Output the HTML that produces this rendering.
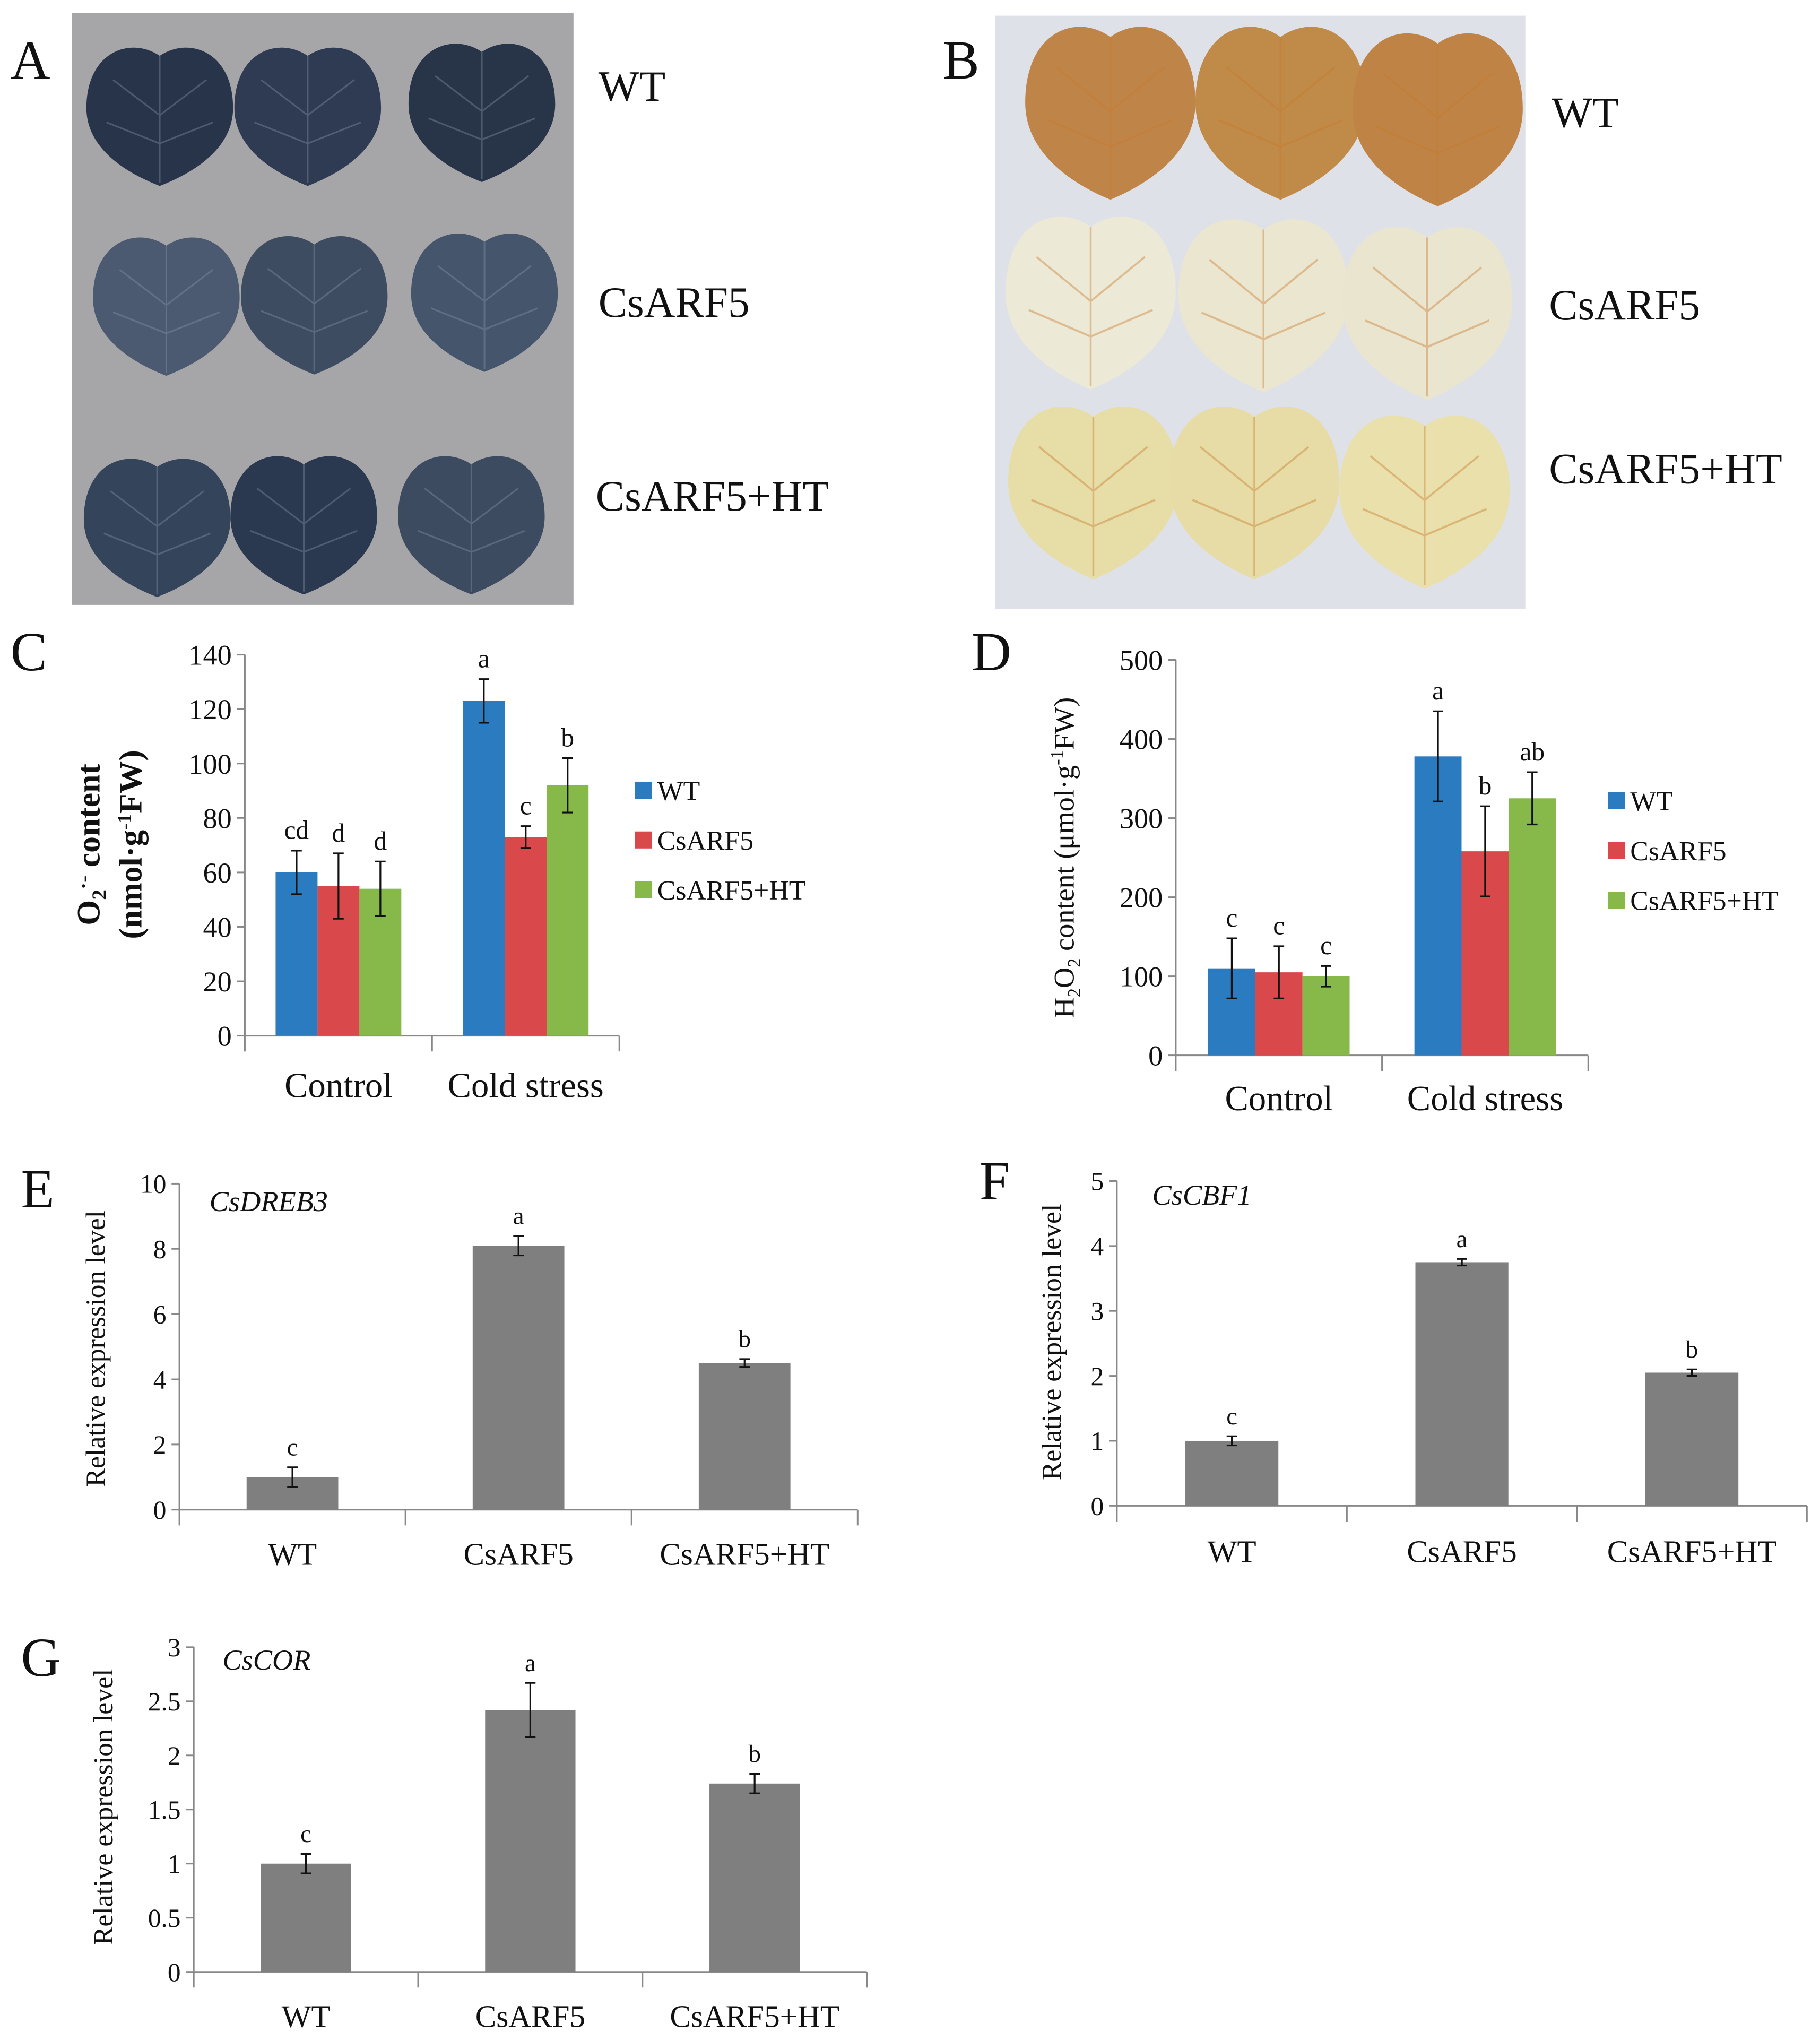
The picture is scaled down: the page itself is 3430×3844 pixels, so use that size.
<!DOCTYPE html>
<html><head><meta charset="utf-8"><style>
html,body{margin:0;padding:0;background:#fff;}
svg{display:block;}
text{font-family:"Liberation Serif",serif;fill:#111;}
</style></head>
<body>
<svg id="fig" width="3430" height="3844" viewBox="0 0 1390 1558" preserveAspectRatio="none" xmlns="http://www.w3.org/2000/svg">
  <rect width="1390" height="1558" fill="#fff"/>
  <text x="8" y="60" font-size="42">A</text>
  <rect x="55" y="10" width="383" height="452" fill="#a6a5a8"/>
  <g id="leavesA"></g>
  <text x="457" y="77" font-size="33">WT</text>
  <text x="457" y="242" font-size="33">CsARF5</text>
  <text x="455" y="390" font-size="33">CsARF5+HT</text>
  <text x="720" y="60" font-size="42">B</text>
  <rect x="760" y="12" width="405" height="453" fill="#dfe1e8"/>
  <g id="leavesB"></g>
  <text x="1185" y="97" font-size="33">WT</text>
  <text x="1183" y="244" font-size="33">CsARF5</text>
  <text x="1183" y="369" font-size="33">CsARF5+HT</text>

  <text x="8" y="512" font-size="42">C</text>
  <text x="742" y="512" font-size="42">D</text>
  <text x="16" y="922" font-size="42">E</text>
  <text x="748" y="916" font-size="42">F</text>
  <text x="16" y="1280" font-size="42">G</text>

  <text transform="translate(76,645) rotate(-90)" font-size="25" text-anchor="middle" font-weight="bold">O<tspan font-size="16" dy="5">2</tspan><tspan dy="-12" font-size="16">·-</tspan><tspan dy="7"> content</tspan></text>
  <text transform="translate(108,645) rotate(-90)" font-size="25" text-anchor="middle" font-weight="bold">(nmol·g<tspan font-size="15" dy="-8">-1</tspan><tspan dy="8">FW)</tspan></text>
  <text transform="translate(820,655) rotate(-90)" font-size="22" text-anchor="middle">H<tspan font-size="14" dy="5">2</tspan><tspan dy="-5">O</tspan><tspan font-size="14" dy="5">2</tspan><tspan dy="-5"> content (μmol·g</tspan><tspan font-size="14" dy="-8">-1</tspan><tspan dy="8">FW)</tspan></text>
  <text transform="translate(80,1030) rotate(-90)" font-size="21" text-anchor="middle">Relative expression level</text>
  <text transform="translate(810,1025) rotate(-90)" font-size="21" text-anchor="middle">Relative expression level</text>
  <text transform="translate(86,1380) rotate(-90)" font-size="21" text-anchor="middle">Relative expression level</text>

  <text x="160" y="925" font-size="22" font-style="italic">CsDREB3</text>
  <text x="880" y="920" font-size="22" font-style="italic">CsCBF1</text>
  <text x="170" y="1275" font-size="22" font-style="italic">CsCOR</text>
  <g id="charts"></g>
</svg>
<script>
const groupCats = ["Control", "Cold  stress"];
const seriesNames = ["WT", "CsARF5", "CsARF5+HT"];
const seriesColors = ["#2a7bc0", "#d9484a", "#86b84a"];
const cTicks = [0, 20, 40, 60, 80, 100, 120, 140];
const cWT = [60, 123];
const cARF = [55, 73];
const cHT = [54, 92];
const cWTErr = [8, 8];
const cARFErr = [12, 4];
const cHTErr = [10, 10];
const cLetters = [["cd","a"],["d","c"],["d","b"]];
const dTicks = [0, 100, 200, 300, 400, 500];
const dWT = [110, 378];
const dARF = [105, 258];
const dHT = [100, 325];
const dWTErr = [38, 57];
const dARFErr = [33, 57];
const dHTErr = [13, 33];
const dLetters = [["c","a"],["c","b"],["c","ab"]];
const geneCats = ["WT", "CsARF5", "CsARF5+HT"];
const eTicks = [0, 2, 4, 6, 8, 10];
const eVals = [1.0, 8.1, 4.5];
const eErr = [0.3, 0.3, 0.12];
const eLetters = ["c", "a", "b"];
const fTicks = [0, 1, 2, 3, 4, 5];
const fVals = [1.0, 3.75, 2.05];
const fErr = [0.07, 0.05, 0.05];
const fLetters = ["c", "a", "b"];
const gTicks = [0, 0.5, 1, 1.5, 2, 2.5, 3];
const gVals = [1.0, 2.42, 1.74];
const gErr = [0.09, 0.25, 0.09];
const gLetters = ["c", "a", "b"];

const NS = "http://www.w3.org/2000/svg";
const root = document.getElementById("charts");
function mk(tag, attrs, parent, txt) {
  const e = document.createElementNS(NS, tag);
  for (const k in attrs) e.setAttribute(k, attrs[k]);
  if (txt !== undefined) e.textContent = txt;
  (parent || root).appendChild(e);
  return e;
}
function axes(g, ax, ticks, cats, tickFs, catFs, catY) {
  const max = ticks[ticks.length - 1];
  const ys = v => ax.y0 - (v / max) * (ax.y0 - ax.yTop);
  let l = mk("line", {x1: ax.x0, y1: ax.yTop, x2: ax.x0, y2: ax.y0 + 12, stroke: "#888", "stroke-width": 1.2}, g);
  
  
  l = mk("line", {x1: ax.x0, y1: ax.y0, x2: ax.xEnd, y2: ax.y0, stroke: "#888", "stroke-width": 1.2}, g);
  
  
  ticks.forEach(t => {
    const y = ys(t);
    mk("line", {x1: ax.x0 - 6, y1: y, x2: ax.x0, y2: y, stroke: "#888", "stroke-width": 1.2}, g);
    const tx = mk("text", {x: ax.x0 - 10, y: y + tickFs * 0.35, "font-size": tickFs, "text-anchor": "end"}, g, String(t));
    
    
  });
  const cw = (ax.xEnd - ax.x0) / cats.length;
  cats.forEach((c, i) => {
    const xb = ax.x0 + cw * (i + 1);
    mk("line", {x1: xb, y1: ax.y0, x2: xb, y2: ax.y0 + 12, stroke: "#888", "stroke-width": 1.2}, g);
    const tx = mk("text", {x: ax.x0 + cw * (i + 0.5), y: catY, "font-size": catFs, "text-anchor": "middle"}, g, c);
    
    
  });
  return {ys, cw};
}
function errBar(g, x, yTop, yBot) {
  mk("line", {x1: x, y1: yTop, x2: x, y2: yBot, stroke: "#111", "stroke-width": 1.3}, g);
  mk("line", {x1: x - 4, y1: yTop, x2: x + 4, y2: yTop, stroke: "#111", "stroke-width": 1.3}, g);
  mk("line", {x1: x - 4, y1: yBot, x2: x + 4, y2: yBot, stroke: "#111", "stroke-width": 1.3}, g);
}
function groupedChart(name, ax, ticks, series, errs, letters, legX, legY, catY) {
  const g = mk("g", {});
  
  
  const {ys, cw} = axes(g, ax, ticks, groupCats, 22, 27, catY);
  const bw = ax.bw;
  groupCats.forEach((c, gi) => {
    const start = ax.x0 + cw * gi + (cw - bw * 3) / 2;
    series.forEach((s, si) => {
      const v = s[gi], e = errs[si][gi];
      const x = start + bw * si;
      const r = mk("rect", {x: x, y: ys(v), width: bw, height: ax.y0 - ys(v), fill: seriesColors[si]}, g);
      
      
      errBar(g, x + bw / 2, ys(v + e), ys(v - e));
      const t = mk("text", {x: x + bw / 2, y: ys(v + e) - 9, "font-size": 20, "text-anchor": "middle"}, g, letters[si][gi]);
      
      
    });
  });
  seriesNames.forEach((n, i) => {
    const r = mk("rect", {x: legX, y: legY + i * 38 - 7, width: 13, height: 13, fill: seriesColors[i]}, g);
    
    
    const t = mk("text", {x: legX + 17, y: legY + i * 38 + 7, "font-size": 21}, g, n);
    
    
  });
}
function simpleChart(name, ax, ticks, vals, errs, letters, catY) {
  const g = mk("g", {});
  
  
  const {ys, cw} = axes(g, ax, ticks, geneCats, 20, 24, catY);
  vals.forEach((v, i) => {
    const x = ax.x0 + cw * (i + 0.5) - ax.bw / 2;
    const r = mk("rect", {x: x, y: ys(v), width: ax.bw, height: ax.y0 - ys(v), fill: "#7f7f7f"}, g);
    
    
    errBar(g, x + ax.bw / 2, ys(v + errs[i]), ys(v - errs[i]));
    const t = mk("text", {x: x + ax.bw / 2, y: ys(v + errs[i]) - 9, "font-size": 19, "text-anchor": "middle"}, g, letters[i]);
    
    
  });
}
groupedChart("chart-c-superoxide", {x0: 187, y0: 791, yTop: 500, xEnd: 473, bw: 32}, cTicks, [cWT, cARF, cHT], [cWTErr, cARFErr, cHTErr], cLetters, 485, 604, 838);
groupedChart("chart-d-h2o2", {x0: 898, y0: 806, yTop: 504, xEnd: 1213, bw: 36}, dTicks, [dWT, dARF, dHT], [dWTErr, dARFErr, dHTErr], dLetters, 1228, 612, 848);
simpleChart("chart-e-csdreb3", {x0: 137, y0: 1153, yTop: 904, xEnd: 655, bw: 70}, eTicks, eVals, eErr, eLetters, 1195);
simpleChart("chart-f-cscbf1", {x0: 853, y0: 1150, yTop: 902, xEnd: 1380, bw: 71}, fTicks, fVals, fErr, fLetters, 1193);
simpleChart("chart-g-cscor", {x0: 148, y0: 1506, yTop: 1258, xEnd: 662, bw: 69}, gTicks, gVals, gErr, gLetters, 1548);

function leaf(parent, cx, cy, w, h, fill, vein) {
  const sx = w / 110, sy = h / 100;
  const p = mk("path", {d: "M0,-42 C22,-56 55,-45 55,-5 C55,25 22,42 0,50 C-22,42 -55,25 -55,-5 C-55,-45 -22,-56 0,-42Z",
    transform: `translate(${cx},${cy}) scale(${sx},${sy})`, fill: fill}, parent);
  
  
  mk("path", {d: "M0,-42 L0,48 M0,0 L-35,-25 M0,0 L35,-25 M0,20 L-40,5 M0,20 L40,5", transform: `translate(${cx},${cy}) scale(${sx},${sy})`,
    stroke: vein, "stroke-width": 1.2, fill: "none", opacity: 0.4}, parent);
}
const LA = document.getElementById("leavesA");
[[122,88,"#27344a"],[235,88,"#2e3b52"],[368,85,"#283448"],
 [127,233,"#4b5a70"],[240,232,"#3e4c62"],[370,230,"#45556b"],
 [120,402,"#34445a"],[232,400,"#2a3850"],[360,400,"#3c4b60"]].forEach(l => leaf(LA, l[0], l[1], 112, 108, l[2], "#8494a8"));
const LB = document.getElementById("leavesB");
[[848,85,"#bf8548"],[978,85,"#c08a48"],[1098,90,"#bf8445"],
 [833,230,"#ece9d6"],[965,232,"#ebe6cf"],[1090,238,"#e9e5cf"],
 [835,375,"#e7dda6"],[958,375,"#e7dca5"],[1088,382,"#e9e0ab"]].forEach(l => leaf(LB, l[0], l[1], 130, 135, l[2], "#c8782a"));
</script>
</body></html>
